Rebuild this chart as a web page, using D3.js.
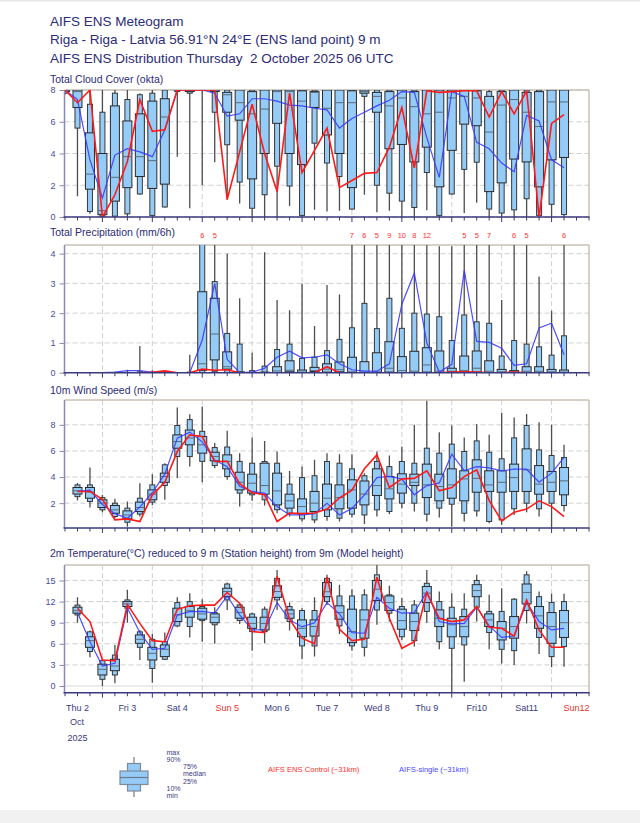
<!DOCTYPE html>
<html><head><meta charset="utf-8">
<script src="https://cdn.jsdelivr.net/npm/d3@7"></script>
<style>
body{margin:0;background:#fff}
svg{display:block}
text{font-family:"Liberation Sans",Arial,Helvetica,sans-serif}
</style>
</head><body>
<svg id="chart" width="640" height="823"></svg>
<script>
// ---------- DATA ----------
const steps = [0,6,12,18,24,30,36,42,48,54,60,66,72,78,84,90,96,102,108,114,120,126,132,138,144,150,156,162,168,174,180,186,192,198,204,210,216,222,228,234,240];
const dayLabels = ["Thu 2","Fri 3","Sat 4","Sun 5","Mon 6","Tue 7","Wed 8","Thu 9","Fri10","Sat11","Sun12"];
const dayIsSunday = [false,false,false,true,false,false,false,false,false,false,true];
const titleLines = ["AIFS ENS Meteogram","Riga - Riga - Latvia 56.91°N 24°E (ENS land point) 9 m","AIFS ENS Distribution Thursday\u00a0 2 October 2025 06 UTC"];
const panelTitles = ["Total Cloud Cover (okta)","Total Precipitation (mm/6h)","10m Wind Speed (m/s)","2m Temperature(°C) reduced to 9 m (Station height) from 9m (Model height)"];
const cloudTicks = [0,2,4,6,8];
const precipTicks = [0,1,2,3,4];
const windTicks = [2,4,6,8];
const tempTicks = [0,3,6,9,12,15];

// [min, p10, p25, median, p75, p90, max]
const cloudBoxes = [
[7.7,7.8,7.9,8,8,8,8],[1.3,5.6,6.9,7.9,8,8,8],[0.2,0.35,1.75,2.7,5.3,7.1,8],[0,0.05,0.15,0.4,4.0,6.6,8],
[0,0.05,1.0,2.5,7.0,7.8,8],[0,0.2,1.85,3.8,6.05,7.4,8],[1.4,1.45,2.55,3.8,6.5,7.7,7.8],[0,0.1,1.8,3.55,7.3,7.8,8],
[0.6,0.63,2.07,6.3,7.45,8,8],[3.8,7.9,8,8,8,8,8],[0.55,7.8,7.9,8,8,8,8],[2.0,8,8,8,8,8,8],
[3.45,6.6,7.9,8,8,8,8],[1.1,4.55,6.6,7.7,7.85,8,8],[0.85,2.2,6.1,7.2,8,8,8],[0,0.55,2.4,6.5,7.9,8,8],
[0,1.4,4.0,6.8,8,8,8],[0,3.2,5.9,7.9,8,8,8],[0.7,1.95,4.0,7.9,8,8,8],[0,0.1,3.3,7.3,7.95,8,8],
[0.45,4.65,6.9,7.85,7.9,8,8],[0.35,3.4,5.17,6.85,8,8,8],[0.4,2.55,4.0,7.2,8,8,8],[0.46,0.5,1.85,7.2,7.95,8,8],
[1.4,7.6,7.8,7.9,8,8,8],[0.3,2.0,6.6,7.6,7.85,8,8],[0.4,1.5,4.3,7.0,7.9,8,8],[0,1.0,4.57,7.5,8,8,8],
[0,0.6,3.47,6.95,7.9,8,8],[0.42,2.8,4.4,6.5,8,8,8],[0,0.1,1.9,6.6,8,8,8],[1.4,1.45,4.2,7.5,8,8,8],
[0.25,3.0,5.85,7.6,8,8,8],[0.9,3.45,5.75,7.5,7.95,8,8],[0,0.5,1.6,5.35,7.6,7.9,8],[0,0.25,2.15,7.05,7.9,8,8],
[0,0.45,3.65,7.4,8,8,8],[0,1.15,3.47,6.6,7.85,8,8],[0,0.1,1.9,5.7,7.9,8,8],[0,0.8,3.6,7.25,8,8,8],
[0,0.15,3.75,7.25,8,8,8]];
const cloudControl = [8,7.2,8,0,1.4,3.5,7.4,5.4,5.5,8,8,8,8,1.1,4.1,7.1,4.0,1.6,7.8,2.8,4.2,5.6,1.85,2.3,2.75,2.8,4.4,6.9,3.1,7.95,7.85,7.9,7.95,7.95,6.3,7.9,6.5,7.95,0,5.9,6.45];
const cloudSingle = [8,7.4,3.6,1.2,3.9,4.3,4.1,3.8,5.5,8,8,8,7.8,6.35,6.5,7.45,7.45,7.3,7.05,7.0,6.85,6.75,5.6,6.2,6.6,7.0,7.35,7.9,7.85,5.0,2.5,7.9,7.6,4.7,4.3,3.4,2.85,6.4,6.05,3.6,3.1];

const precipBoxes = [
[0,0,0,0,0,0,0],[0,0,0,0,0,0,0],[0,0,0,0,0,0,0],[0,0,0,0,0,0,0.02],
[0,0,0,0,0,0,0.03],[0,0,0,0,0,0.01,0.1],[0,0,0,0,0,0.03,0.9],[0,0,0,0,0,0.02,0.08],
[0,0,0,0,0,0.02,0.06],[0,0,0,0,0,0,0.02],[0,0,0,0,0,0.02,0.6],[0,0,0.08,0.3,2.72,4.6,6],
[0,0.03,0.43,1.3,2.5,3.06,5],[0,0,0.12,0.2,0.7,1.32,4.0],[0,0,0,0.01,0.03,0.96,2.5],[0,0,0,0,0.01,0.07,0.67],
[0,0,0,0,0.02,0.22,4.05],[0,0,0,0.06,0.2,0.78,2.44],[0,0,0.03,0.08,0.4,0.96,2.1],[0,0,0,0.02,0.09,0.48,3.0],
[0,0,0.04,0.07,0.18,0.52,1.57],[0,0,0.02,0.12,0.3,0.74,2.95],[0,0,0.03,0.1,0.36,1.12,2.63],[0,0,0,0.03,0.52,1.51,7],
[0,0,0,0.02,0.37,2.33,6],[0,0,0,0.03,0.67,1.48,5],[0,0,0.02,0.15,1.04,2.5,9],[0,0,0,0.07,0.54,1.49,10],
[0,0,0,0.05,0.72,2.0,8],[0,0,0.02,0.26,0.84,1.97,12],[0,0,0,0.05,0.73,1.88,4.25],[0,0,0.02,0.05,0.15,1.08,4.25],
[0,0,0.02,0.07,0.56,1.94,5],[0,0,0.02,0.15,0.73,1.71,5],[0,0,0,0.05,0.4,1.66,7],[0,0,0,0.03,0.11,0.56,2.44],
[0,0,0,0.02,0.07,1.08,6],[0,0,0,0.05,0.2,0.96,5],[0,0,0,0.05,0.2,0.87,3.23],[0,0,0,0.03,0.11,0.59,2.08],
[0,0,0,0.02,0.09,1.24,6]];
const precipControl = [0,0,0,0,0,0,0,0.01,0.06,0,0,0.12,0.08,0.1,0,0,0,0,0,0,0,0.2,0,0,0,0,0,0,0,0,0,0.02,0.03,0.02,0,0,0.02,0,0,0,0];
const precipSingle = [0,0,0,0,0.02,0.07,0.07,0.01,0.01,0,0,1.1,3.0,0.45,0,0.02,0.15,0.52,0.72,0.5,0.52,0.6,0.3,0.1,0.05,0.05,0.3,2.3,3.35,1.0,0.02,0.28,3.45,1.05,1.02,0.82,0.25,0.3,1.5,1.66,0.6];

const windBoxes = [null,
[2.2,2.5,2.7,2.95,3.2,3.4,3.55],[1.67,2.13,2.38,2.85,3.2,3.4,4.73],[1.3,1.49,1.67,2.0,2.26,2.43,2.64],[0.85,0.98,1.23,1.49,1.82,2.0,2.33],
[0.2,0.54,0.8,1.1,1.41,1.62,2.13],[0.98,1.16,1.36,1.67,2.08,2.38,3.53],[1.87,2.08,2.26,2.69,3.02,3.4,4.22],[2.26,3.35,3.6,4.04,4.3,4.94,5.06],
[3.9,5.57,6.21,6.72,7.23,7.95,9.33],[4.8,5.57,6.47,7.0,7.6,8.4,8.8],[3.6,5.2,5.83,6.47,7.1,7.5,9.4],[4.68,4.88,5.24,5.57,5.9,6.26,6.6],
[3.8,4.04,4.63,5.2,5.7,6.3,7.54],[1.74,2.77,3.02,3.6,4.37,5.2,5.83],[2.18,2.64,2.77,3.53,4.22,5.06,7.03],[1.82,2.26,2.69,3.35,5.06,5.19,6.77],
[1.23,1.5,1.87,2.94,4.3,5.06,5.96],[0.98,1.23,1.62,2.18,2.69,3.46,4.47],[0.6,0.8,1.16,1.74,2.33,3.96,4.8],[0.47,0.72,1.36,2.0,2.9,4.1,5.32],
[0.65,0.98,1.49,2.38,3.46,5.19,5.83],[0.6,0.85,1.57,2.43,3.4,5.06,5.75],[0.9,1.16,1.62,3.02,3.79,4.63,5.75],[0.4,1.1,1.87,2.7,3.7,4.1,4.3],
[0.98,1.49,2.59,3.35,4.63,5.19,5.96],[1.16,1.36,2.33,3.1,4.04,4.8,5.65],[1.62,2.0,2.77,3.46,4.25,5.19,6.34],[1.36,2.0,3.35,3.6,4.22,5.06,8.0],
[0.6,1.16,2.43,3.4,4.99,6.21,9.85],[0.9,1.62,2.18,3.28,4.22,5.83,7.44],[0.2,1.92,2.38,3.4,4.63,6.52,7.95],[0.6,1.23,2.18,3.86,4.48,5.96,7.03],
[0.98,1.41,2.84,3.9,5.32,6.77,8.05],[0.47,0.6,2.9,3.4,4.48,5.9,7.23],[0.34,0.72,2.84,3.6,4.48,5.4,8.9],[1.1,1.57,2.9,3.96,4.99,7.0,8.56],
[1.3,2.0,2.9,4.55,6.16,7.95,8.82],[0.98,1.57,2.69,3.46,4.88,6.08,8.2],[0.1,2.0,2.9,3.6,4.43,5.65,8.0],[1.36,1.82,2.64,3.71,4.73,5.5,6.47]];
const windControl = [null,2.9,2.9,2.3,0.72,0.8,0.6,2.64,3.6,5.96,7.23,7.1,5.19,5.2,3.5,2.8,2.64,0.6,1.25,1.2,1.25,1.55,2.4,3.0,4.63,5.7,3.2,3.86,3.9,4.48,2.95,3.2,4.04,4.55,2.2,0.65,1.3,1.55,2.18,1.74,0.98];
const windSingle = [null,2.9,3.0,1.9,1.2,0.85,1.7,2.8,4.22,6.98,7.44,6.7,5.3,4.8,3.3,2.9,2.75,1.74,1.1,1.1,1.2,2.0,1.1,1.6,2.64,3.96,4.05,3.85,2.64,3.35,3.55,5.75,4.5,4.8,4.7,4.48,4.6,4.6,3.6,4.3,5.5];

const tempBoxes = [null,
[9.0,10.1,10.35,10.7,11.2,11.5,12.6],[4.1,4.9,5.5,6.45,7.0,7.7,7.9],[0,0.95,1.57,2.37,3.1,3.6,3.8],[0.4,1.57,2.18,2.85,3.8,4.4,5.84],
[9.0,11.06,11.3,11.67,12.0,12.24,13.67],[3.7,5.5,6.07,6.64,7.26,7.7,7.97],[0.47,2.5,3.7,4.65,5.5,6.64,7.4],[3.7,3.8,4.18,5.22,5.84,6.3,7.6],
[8.35,8.54,9.16,10.1,11.06,11.86,12.6],[6.9,8.45,9.78,10.7,11.3,12.0,13.2],[6.3,9.3,9.5,10.25,11.06,11.3,12.34],[6.0,8.7,9.0,9.78,10.25,10.44,11.2],
[10.8,12.24,12.7,13.43,13.9,14.5,14.7],[8.83,9.3,9.63,10.44,11.2,11.53,11.77],[5.03,7.74,8.2,8.9,9.78,10.25,10.44],[6.07,7.74,7.97,8.9,9.78,10.92,11.3],
[10.8,12.24,12.6,13.43,14.24,15.3,16.5],[7.88,9.16,9.63,10.25,10.82,11.3,11.86],[3.8,5.7,7.0,8.2,9.4,10.73,11.06],[4.18,5.7,7.1,8.45,9.4,10.73,12.6],
[11.53,12.0,12.7,13.4,14.7,15.3,15.8],[7.4,8.54,9.5,10.44,11.4,12.8,14.4],[5.03,5.7,6.17,7.74,10.92,12.8,13.76],[4.18,5.5,6.8,9.4,10.82,12.96,13.76],
[8.7,10.8,12.15,13.76,15.0,15.8,17.2],[9.16,10.35,10.73,11.86,12.8,12.96,14.24],[6.55,7.0,8.07,9.3,10.92,11.3,12.5],[5.6,6.45,7.88,9.16,10.35,11.53,12.24],
[9.0,10.6,11.86,13.2,14.14,14.6,16.5],[5.22,6.3,8.45,9.63,10.82,12.0,13.43],[-1.5,5.36,7.0,8.7,9.63,11.2,13.2],[0.6,5.84,7.0,8.45,9.87,10.92,13.2],
[9.16,11.2,12.7,13.57,14.4,15.0,15.8],[5.22,7.6,8.45,9.4,10.25,10.6,12.96],[3.2,5.22,6.55,8.2,9.16,10.6,13.9],[3.0,5.03,6.8,8.45,9.87,12.34,12.5],
[8.9,10.73,11.67,13.3,14.5,15.8,16.3],[4.56,6.9,8.2,9.97,11.3,12.7,13.43],[2.66,4.18,6.07,8.45,10.44,11.86,13.1],[2.75,5.6,6.9,9.0,10.73,12.0,13.1]];
const tempControl = [null,11.06,9.16,3.7,3.6,11.6,8.9,6.45,6.3,10.9,11.4,11.5,11.5,13.29,11.77,7.74,7.6,15.57,9.5,6.8,6.0,15.47,8.07,6.45,6.64,15.47,9.63,5.36,6.3,13.29,9.63,9.16,9.4,11.3,8.35,8.2,7.1,12.24,7.97,5.5,5.5];
const tempSingle = [null,10.44,6.3,2.85,3.23,11.1,7.6,5.22,5.36,10.1,10.58,10.6,10.35,12.8,10.1,7.97,8.0,11.86,9.4,8.4,9.0,11.86,10.25,7.6,7.5,12.6,11.06,10.35,10.44,13.4,9.16,8.83,8.9,11.2,8.54,6.9,7.1,11.86,9.16,7.97,8.2];

const legendLabels = ["max","90%","75%","median","25%","10%","min"];
const seriesLegend = ["AIFS ENS Control (~31km)","AIFS-single (~31km)"];

// ---------- DRAWING ----------
const svg = d3.select("#chart");
const NAVY = "#2c2c78", AXIS = "#3a3a80", TICKC = "#4a4aa0";
const BOXFILL = "#95cbf7", RED = "#ff1a1a", BLUE = "#3a3aff";
const t0 = Date.UTC(2025,9,2,6), t1 = Date.UTC(2025,9,12,18);
const x = d3.scaleUtc().domain([new Date(t0), new Date(t1)]).range([65, 589]);
const tAt = h => new Date(t0 + h*3600e3);
const days = d3.utcDay.range(new Date(Date.UTC(2025,9,2)), new Date(Date.UTC(2025,9,13)));

svg.append("rect").attr("x",0).attr("y",0).attr("width",640).attr("height",823).attr("fill","#fff");
svg.append("rect").attr("x",0).attr("y",0).attr("width",640).attr("height",1.5).attr("fill","#e8e8e8");
svg.append("rect").attr("x",0).attr("y",810).attr("width",640).attr("height",13).attr("fill","#f1f1f1");

// titles
svg.selectAll("text.title").data(titleLines).join("text")
  .attr("x",50).attr("y",(d,i)=>26+i*18.3).attr("font-size","13.5px").attr("fill",NAVY)
  .style("white-space","pre").text(d=>d);

const panels = [
  {name:"cloud", title:panelTitles[0], ty:83, top:90, bottom:217, domain:[0,8], ticks:cloudTicks, boxes:cloudBoxes, ctrl:cloudControl, single:cloudSingle},
  {name:"precip", title:panelTitles[1], ty:236, top:245, bottom:372.7, domain:[0,4.29], ticks:precipTicks, boxes:precipBoxes, ctrl:precipControl, single:precipSingle, labels:true},
  {name:"wind", title:panelTitles[2], ty:394, top:400, bottom:528, domain:[0.1,9.9], ticks:windTicks, boxes:windBoxes, ctrl:windControl, single:windSingle},
  {name:"temp", title:panelTitles[3], ty:557, top:565, bottom:692.7, domain:[-0.95,17.2], ticks:tempTicks, boxes:tempBoxes, ctrl:tempControl, single:tempSingle, zeroSolid:true}
];

const L = 64.5, R = 589;
panels.forEach((p,pi)=>{
  const y = d3.scaleLinear().domain(p.domain).range([p.bottom, p.top]);
  const g = svg.append("g");
  g.append("text").attr("x",50).attr("y",p.ty).attr("font-size","10.5px").attr("fill",NAVY).text(p.title);
  const clipId = "clip"+pi;
  svg.append("clipPath").attr("id",clipId).append("rect").attr("x",L).attr("y",p.top).attr("width",R-L).attr("height",p.bottom-p.top);

  // grid
  g.selectAll("line.hg").data(p.ticks).join("line")
    .attr("x1",L).attr("x2",R).attr("y1",d=>y(d)).attr("y2",d=>y(d))
    .attr("stroke",d=>(p.zeroSolid&&d===0)?"#d8d8d8":"#cfcfcf").attr("stroke-width",1)
    .attr("stroke-dasharray",d=>(p.zeroSolid&&d===0)?null:"5,3");
  g.selectAll("line.vg").data(days.filter(d=>x(d)>L+2 && x(d)<R-2)).join("line")
    .attr("x1",d=>x(d)).attr("x2",d=>x(d)).attr("y1",p.top).attr("y2",p.bottom)
    .attr("stroke","#cfcfcf").attr("stroke-dasharray","5,3");

  // frame
  g.append("line").attr("x1",L).attr("x2",R).attr("y1",p.top).attr("y2",p.top).attr("stroke","#c9c0b6").attr("stroke-width",1.5);
  g.append("line").attr("x1",R).attr("x2",R).attr("y1",p.top).attr("y2",p.bottom).attr("stroke","#c9c0b6").attr("stroke-width",1.5);

  // boxes
  const data = steps.map((s,i)=>({s, b:p.boxes[i], c:p.ctrl[i], u:p.single[i]}));
  const bg = g.append("g").attr("clip-path",`url(#${clipId})`);
  const items = bg.selectAll("g.box").data(data.filter(d=>d.b)).join("g");
  items.append("line").attr("x1",d=>x(tAt(d.s))).attr("x2",d=>x(tAt(d.s)))
    .attr("y1",d=>y(d.b[0])).attr("y2",d=>y(d.b[6])).attr("stroke","#4d4d4d").attr("stroke-width",1.3);
  items.append("rect").attr("x",d=>x(tAt(d.s))-2.5).attr("width",5)
    .attr("y",d=>y(d.b[5])).attr("height",d=>Math.max(0,y(d.b[1])-y(d.b[5])))
    .attr("fill",BOXFILL).attr("stroke","#383838").attr("stroke-width",1);
  items.append("rect").attr("x",d=>x(tAt(d.s))-4.5).attr("width",9)
    .attr("y",d=>y(d.b[4])).attr("height",d=>Math.max(0,y(d.b[2])-y(d.b[4])))
    .attr("fill",BOXFILL).attr("stroke","#2a2a2a").attr("stroke-width",1);
  items.append("line").attr("x1",d=>x(tAt(d.s))-4.5).attr("x2",d=>x(tAt(d.s))+4.5)
    .attr("y1",d=>y(d.b[3])).attr("y2",d=>y(d.b[3])).attr("stroke","#5a6a7a").attr("stroke-width",1);

  // lines
  const line = d3.line().defined(d=>d.v!=null).x(d=>x(tAt(d.s))).y(d=>y(d.v));
  bg.append("path").attr("d",line(data.map(d=>({s:d.s,v:d.u})))).attr("fill","none")
    .attr("stroke",BLUE).attr("stroke-width",1.2).attr("opacity",0.9);
  bg.append("path").attr("d",line(data.map(d=>({s:d.s,v:d.c})))).attr("fill","none")
    .attr("stroke",RED).attr("stroke-width",1.6);

  // exceed labels
  if(p.labels){
    g.selectAll("text.ex").data(data.filter(d=>d.b && d.b[6]>p.domain[1])).join("text")
      .attr("x",d=>x(tAt(d.s))).attr("y",p.top-7.5).attr("text-anchor","middle")
      .attr("font-size","7.5px").attr("fill","#ff3030").text(d=>Math.round(d.b[6]));
  }

  // left axis
  const ya = g.append("g").attr("transform",`translate(${L},0)`)
    .call(d3.axisLeft(y).tickValues(p.ticks).tickFormat(d3.format("d")).tickSize(5).tickPadding(4).tickSizeOuter(0));
  ya.select(".domain").attr("stroke","#8a8ab0").attr("stroke-width",1.5).attr("d",`M0,${p.top}V${p.bottom}`);
  ya.selectAll(".tick line").attr("stroke","#8a8ab0");
  ya.selectAll(".tick text").attr("fill",TICKC).attr("font-size","9px").attr("font-family","Liberation Sans, Arial, sans-serif");

  // bottom axis
  const minor = d3.utcHour.every(6).range(new Date(t0), new Date(t1+1));
  g.selectAll("line.mt").data(minor).join("line")
    .attr("x1",d=>x(d)).attr("x2",d=>x(d)).attr("y1",p.bottom).attr("y2",d=>p.bottom+(d.getUTCHours()===0?5:3.5))
    .attr("stroke",AXIS).attr("stroke-width",1);
  g.append("line").attr("x1",L-1).attr("x2",R+0.5).attr("y1",p.bottom).attr("y2",p.bottom).attr("stroke",AXIS).attr("stroke-width",1.5);
});

// day labels
svg.selectAll("text.day").data(dayLabels).join("text")
  .attr("x",(d,i)=>x(new Date(days[i].getTime()+12*3600e3))).attr("y",711).attr("text-anchor","middle")
  .attr("font-size","9px").attr("fill",(d,i)=>dayIsSunday[i]?"#e8302a":"#3a3a80").text(d=>d);
svg.append("text").attr("x",77).attr("y",725).attr("text-anchor","middle").attr("font-size","9px").attr("fill","#3a3a80").text("Oct");
svg.append("text").attr("x",77.5).attr("y",741).attr("text-anchor","middle").attr("font-size","9px").attr("fill","#3a3a80").text("2025");

// legend glyph
const lg = svg.append("g");
const lgY = [797,791,784.5,777.5,771,763.5,757]; // min..max positions
const cx = 134;
lg.append("line").attr("x1",cx).attr("x2",cx).attr("y1",lgY[6]).attr("y2",lgY[0]).attr("stroke","#7a7a7a").attr("stroke-width",1.2);
lg.append("rect").attr("x",cx-6.5).attr("width",13).attr("y",lgY[5]).attr("height",lgY[1]-lgY[5]).attr("fill",BOXFILL).attr("stroke","#7d8a98").attr("stroke-width",1.2);
lg.append("rect").attr("x",cx-14).attr("width",28).attr("y",lgY[4]).attr("height",lgY[2]-lgY[4]).attr("fill",BOXFILL).attr("stroke","#7d8a98").attr("stroke-width",1.2);
lg.append("line").attr("x1",cx-14).attr("x2",cx+14).attr("y1",lgY[3]).attr("y2",lgY[3]).attr("stroke","#6a7a8a").attr("stroke-width",1.2);
const legX = [166.5,166.5,183,183,183,166.5,166.5];
const legYb = [754.5,761.8,768.8,775.8,783.5,790.8,797.5];
svg.selectAll("text.leg").data(legendLabels).join("text")
  .attr("x",(d,i)=>legX[i]).attr("y",(d,i)=>legYb[i]).attr("font-size","7px").attr("fill","#3a3a80").text(d=>d);
svg.append("text").attr("x",268).attr("y",772).attr("font-size","7.6px").attr("fill","#ff3030").text(seriesLegend[0]);
svg.append("text").attr("x",399).attr("y",772).attr("font-size","7.6px").attr("fill","#4848ff").text(seriesLegend[1]);
</script>
</body></html>
